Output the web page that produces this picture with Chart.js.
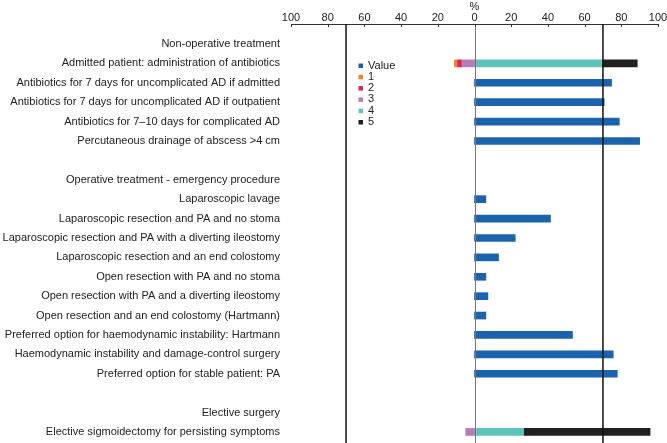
<!DOCTYPE html>
<html>
<head>
<meta charset="utf-8">
<script src="https://cdn.jsdelivr.net/npm/chart.js@4"></script>
<style>
html, body { margin: 0; padding: 0; background: #fff; }
#wrap { width: 667px; height: 443px; }
</style>
</head>
<body>
<div id="wrap"><canvas id="chart"></canvas></div>
<script>
// row labels, top to bottom ('' = spacer row)
var rows = [
    "Non-operative treatment",
    "Admitted patient: administration of antibiotics",
    "Antibiotics for 7 days for uncomplicated AD if admitted",
    "Antibiotics for 7 days for uncomplicated AD if outpatient",
    "Antibiotics for 7\u201310 days for complicated AD",
    "Percutaneous drainage of abscess >4 cm",
    "",
    "Operative treatment - emergency procedure",
    "Laparoscopic lavage",
    "Laparoscopic resection and PA and no stoma",
    "Laparoscopic resection and PA with a diverting ileostomy",
    "Laparoscopic resection and an end colostomy",
    "Open resection with PA and no stoma",
    "Open resection with PA and a diverting ileostomy",
    "Open resection and an end colostomy (Hartmann)",
    "Preferred option for haemodynamic instability: Hartmann",
    "Haemodynamic instability and damage-control surgery",
    "Preferred option for stable patient: PA",
    "",
    "Elective surgery",
    "Elective sigmoidectomy for persisting symptoms"
];

var valueData = [null, null, 74.7, 70.7, 78.9, 90, null, null, 6.2, 41.4, 22.2, 13.1, 6.2, 7.3, 6.2, 53.4, 75.6, 77.8, null, null, null];
// Likert 1-3 plotted to the left of zero
var score1 = [null, -1.8, null, null, null, null, null, null, null, null, null, null, null, null, null, null, null, null, null, null, null];
var score2 = [null, -2.2, null, null, null, null, null, null, null, null, null, null, null, null, null, null, null, null, null, null, null];
var score3 = [null, -6.9, null, null, null, null, null, null, null, null, null, null, null, null, null, null, null, null, null, null, -4.8];
var score4 = [null, 69.6, null, null, null, null, null, null, null, null, null, null, null, null, null, null, null, null, null, null, 26.8];
var score5 = [null, 19.1, null, null, null, null, null, null, null, null, null, null, null, null, null, null, null, null, null, null, 68.9];

var xTicks = [-100, -80, -60, -40, -20, 0, 20, 40, 60, 80, 100];
var refLines = [-70, 70];

function points(arr) {
    var out = [];
    arr.forEach(function (v, i) {
        if (v !== null) out.push({ x: v, y: i });
    });
    return out;
}

// draws threshold lines, inward tick marks and the legend box
var extras = {
    id: "extras",
    afterDatasetsDraw: function (chart) {
        var c = chart.ctx;
        var xs = chart.scales.x;
        var area = chart.chartArea;
        c.save();

        c.strokeStyle = "#777";
        c.lineWidth = 1;
        var x0 = Math.round(xs.getPixelForValue(0)) + 0.5;
        c.beginPath();
        c.moveTo(x0, area.top);
        c.lineTo(x0, area.bottom);
        c.stroke();

        c.strokeStyle = "#111";
        c.lineWidth = 1.5;
        refLines.forEach(function (v) {
            var x = xs.getPixelForValue(v);
            c.beginPath();
            c.moveTo(x, area.top);
            c.lineTo(x, area.bottom);
            c.stroke();
        });

        c.strokeStyle = "#333";
        c.lineWidth = 1;
        xTicks.forEach(function (v) {
            var x = Math.round(xs.getPixelForValue(v)) + 0.5;
            c.beginPath();
            c.moveTo(x, area.top);
            c.lineTo(x, area.top + 3);
            c.stroke();
        });

        // legend
        c.font = "11px 'Liberation Sans', Arial, sans-serif";
        c.textBaseline = "middle";
        c.textAlign = "left";
        chart.data.datasets.forEach(function (ds, i) {
            var y = 65.5 + i * 11.3;
            c.fillStyle = ds.backgroundColor;
            c.fillRect(358.5, y - 2, 4.5, 4.5);
            c.fillStyle = "#222";
            c.fillText(ds.label, 368, y);
        });
        c.restore();
    }
};

Chart.defaults.font.family = "'Liberation Sans', Arial, sans-serif";
Chart.defaults.font.size = 11;
Chart.defaults.color = "#222";

new Chart(document.getElementById("chart"), {
    type: "bar",
    data: {
        datasets: [
            { label: "Value", data: points(valueData), backgroundColor: "#1c63ae", order: 0 },
            { label: "1", data: points(score1), backgroundColor: "#f0822a", order: 3 },
            { label: "2", data: points(score2), backgroundColor: "#e2214f", order: 2 },
            { label: "3", data: points(score3), backgroundColor: "#b67cba", order: 1 },
            { label: "4", data: points(score4), backgroundColor: "#5ec4bb", order: 4 },
            { label: "5", data: points(score5), backgroundColor: "#231f20", order: 5 }
        ]
    },
    options: {
        indexAxis: "y",
        responsive: true,
        maintainAspectRatio: false,
        animation: false,
        datasets: {
            bar: { barThickness: 7, borderWidth: 0 }
        },
        layout: { padding: { left: 0, right: 9, top: 0, bottom: 0 } },
        plugins: {
            legend: { display: false },
            tooltip: { enabled: false }
        },
        scales: {
            x: {
                position: "top",
                stacked: true,
                min: -100,
                max: 100,
                afterBuildTicks: function (s) {
                    s.ticks = xTicks.map(function (v) { return { value: v }; });
                },
                afterFit: function (s) { s.height = 24; },
                title: { display: true, text: "%", padding: 0, font: { size: 11 } },
                grid: { display: false, drawTicks: false },
                border: { display: true, color: "#333", width: 1 },
                ticks: {
                    padding: -1,
                    callback: function (v) { return Math.abs(v); }
                }
            },
            y: {
                type: "linear",
                stacked: true,
                reverse: true,
                offset: false,
                bounds: "data",
                min: -1.03,
                max: 20.57,
                afterBuildTicks: function (s) {
                    s.ticks = rows.map(function (r, i) { return { value: i }; });
                },
                afterFit: function (s) {
                    s.width = 291;
                    s.paddingTop = 0;
                    s.paddingBottom = 0;
                },
                grid: { display: false, drawTicks: false },
                border: { display: false },
                ticks: {
                    autoSkip: false,
                    padding: 11,
                    callback: function (v) {
                        return rows[v] || "";
                    }
                }
            }
        }
    },
    plugins: [extras]
});
</script>
</body>
</html>
